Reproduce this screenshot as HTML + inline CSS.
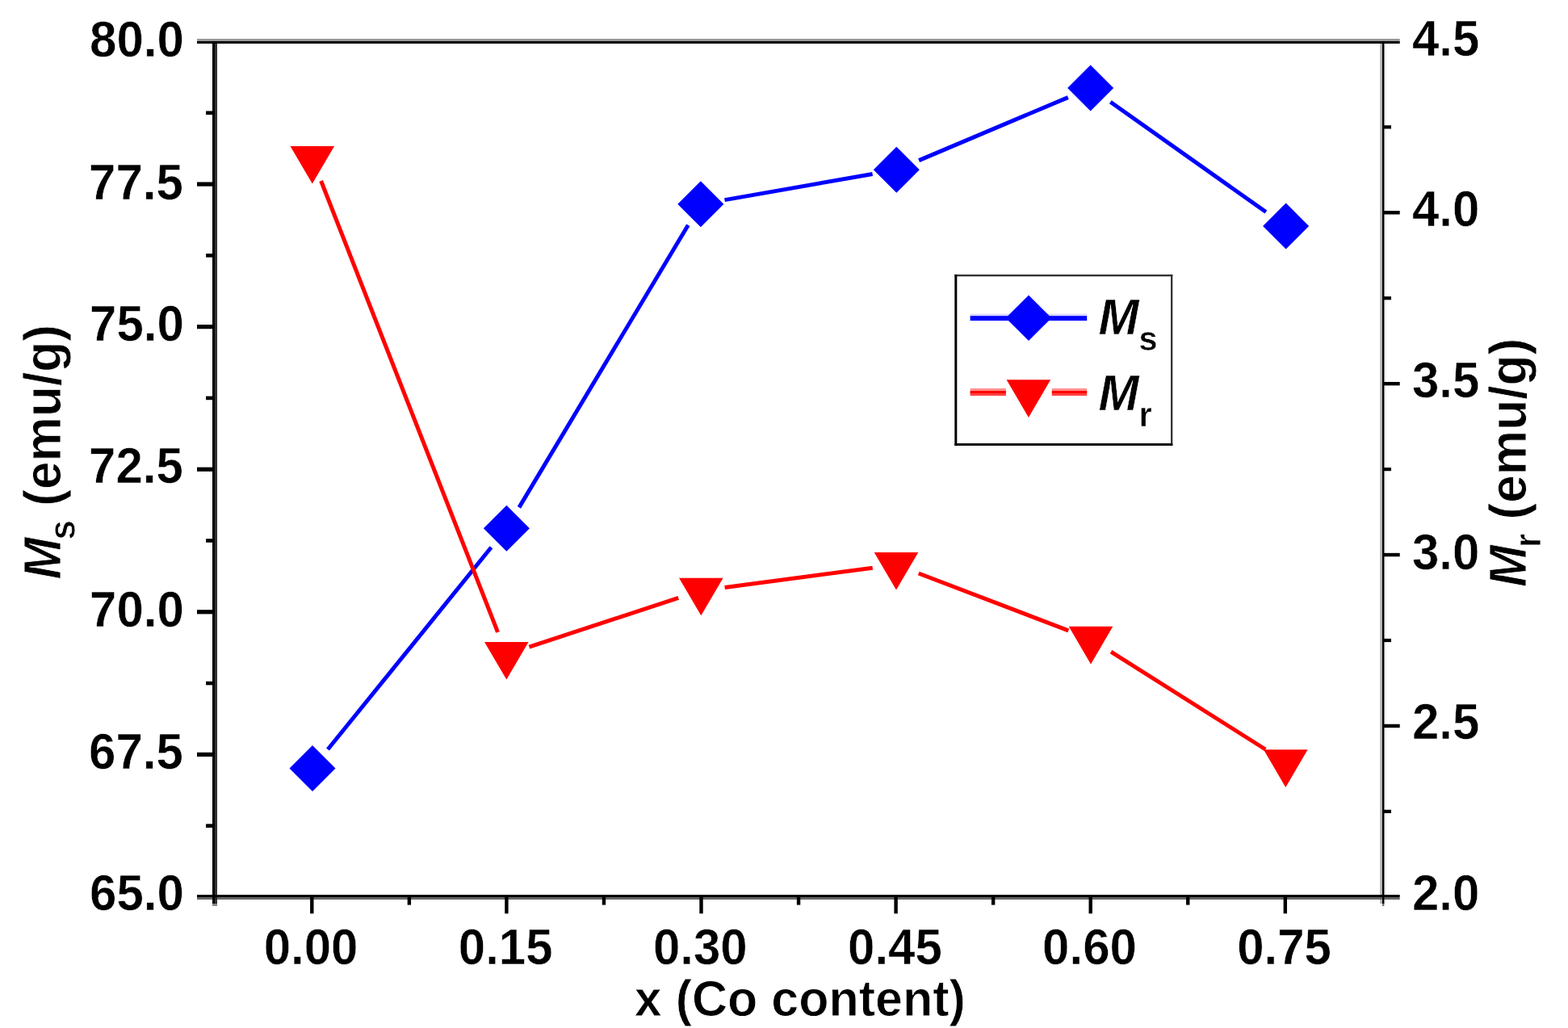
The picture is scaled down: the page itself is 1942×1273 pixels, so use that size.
<!DOCTYPE html>
<html lang="en"><head><meta charset="utf-8"><title>Ms and Mr vs Co content</title>
<style>html,body{margin:0;padding:0;background:#fff}body{width:1942px;height:1273px;overflow:hidden}svg{display:block}text{font-family:"Liberation Sans",Arial,Helvetica,sans-serif;font-weight:bold;fill:#000}.it{font-style:italic}.thin{stroke:#fff;stroke-width:0.8px;stroke-linejoin:round}.tl{stroke:#fff;stroke-width:0.5px;stroke-linejoin:round}</style></head><body>
<svg width="1942" height="1273" viewBox="0 0 1942 1273">
<rect width="1942" height="1273" fill="#fff"/>
<rect x="263.00" y="51.00" width="3.00" height="1068.00" fill="#000"/>
<rect x="266.00" y="51.00" width="3.00" height="1068.00" fill="#333"/>
<rect x="263.00" y="1119.00" width="6.00" height="3.00" fill="#888"/>
<rect x="1709.20" y="54.00" width="3.80" height="1065.00" fill="#b3b3b3"/>
<rect x="1713.00" y="54.00" width="3.70" height="1065.00" fill="#eee"/>
<rect x="1712.00" y="51.00" width="2.40" height="1068.00" fill="#000"/>
<rect x="1712.00" y="1119.00" width="2.40" height="3.00" fill="#777"/>
<rect x="244.00" y="48.00" width="1489.70" height="3.00" fill="#999"/>
<rect x="244.00" y="51.00" width="1489.70" height="3.00" fill="#000"/>
<rect x="244.00" y="1108.00" width="1489.70" height="3.00" fill="#000"/>
<rect x="244.00" y="1111.00" width="1489.70" height="3.00" fill="#666"/>
<rect x="263.00" y="1111.00" width="3.00" height="3.00" fill="#000"/>
<rect x="266.00" y="1111.00" width="3.00" height="3.00" fill="#222"/>
<rect x="1712.00" y="1111.00" width="2.40" height="3.00" fill="#000"/>
<rect x="255.10" y="137.48" width="10.90" height="4.60" fill="#000"/>
<rect x="244.00" y="225.47" width="22.00" height="5.20" fill="#000"/>
<rect x="255.10" y="314.05" width="10.90" height="4.60" fill="#000"/>
<rect x="244.00" y="402.03" width="22.00" height="5.20" fill="#000"/>
<rect x="255.10" y="490.62" width="10.90" height="4.60" fill="#000"/>
<rect x="244.00" y="578.60" width="22.00" height="5.20" fill="#000"/>
<rect x="255.10" y="667.18" width="10.90" height="4.60" fill="#000"/>
<rect x="244.00" y="755.17" width="22.00" height="5.20" fill="#000"/>
<rect x="255.10" y="843.75" width="10.90" height="4.60" fill="#000"/>
<rect x="244.00" y="931.73" width="22.00" height="5.20" fill="#000"/>
<rect x="255.10" y="1020.32" width="10.90" height="4.60" fill="#000"/>
<rect x="1713.00" y="155.24" width="10.00" height="4.20" fill="#000"/>
<rect x="1713.00" y="261.08" width="20.70" height="4.40" fill="#000"/>
<rect x="1713.00" y="367.12" width="10.00" height="4.20" fill="#000"/>
<rect x="1713.00" y="472.96" width="20.70" height="4.40" fill="#000"/>
<rect x="1713.00" y="579.00" width="10.00" height="4.20" fill="#000"/>
<rect x="1713.00" y="684.84" width="20.70" height="4.40" fill="#000"/>
<rect x="1713.00" y="790.88" width="10.00" height="4.20" fill="#000"/>
<rect x="1713.00" y="896.72" width="20.70" height="4.40" fill="#000"/>
<rect x="1713.00" y="1002.76" width="10.00" height="4.20" fill="#000"/>
<rect x="384.10" y="1108.00" width="4.40" height="23.30" fill="#000"/>
<rect x="625.20" y="1108.00" width="4.40" height="23.30" fill="#000"/>
<rect x="866.30" y="1108.00" width="4.40" height="23.30" fill="#000"/>
<rect x="1107.40" y="1108.00" width="4.40" height="23.30" fill="#000"/>
<rect x="1348.50" y="1108.00" width="4.40" height="23.30" fill="#000"/>
<rect x="1589.60" y="1108.00" width="4.40" height="23.30" fill="#000"/>
<rect x="504.65" y="1108.00" width="4.40" height="12.60" fill="#000"/>
<rect x="745.75" y="1108.00" width="4.40" height="12.60" fill="#000"/>
<rect x="986.85" y="1108.00" width="4.40" height="12.60" fill="#000"/>
<rect x="1227.95" y="1108.00" width="4.40" height="12.60" fill="#000"/>
<rect x="1469.05" y="1108.00" width="4.40" height="12.60" fill="#000"/>
<text class="tl" transform="translate(227.8,69.6) scale(1,1.045)" font-size="60" text-anchor="end">80.0</text>
<text class="tl" transform="translate(226.9,246.7) scale(1,1.045)" font-size="60" text-anchor="end">77.5</text>
<text class="tl" transform="translate(227.8,421.8) scale(1,1.045)" font-size="60" text-anchor="end">75.0</text>
<text class="tl" transform="translate(226.9,598.4) scale(1,1.045)" font-size="60" text-anchor="end">72.5</text>
<text class="tl" transform="translate(227.8,775.5) scale(1,1.045)" font-size="60" text-anchor="end">70.0</text>
<text class="tl" transform="translate(226.9,951.5) scale(1,1.045)" font-size="60" text-anchor="end">67.5</text>
<text class="tl" transform="translate(227.8,1127.3) scale(1,1.045)" font-size="60" text-anchor="end">65.0</text>
<text class="tl" transform="translate(1749.0,69.1) scale(1,1.045)" font-size="60" text-anchor="start">4.5</text>
<text class="tl" transform="translate(1749.0,280.2) scale(1,1.045)" font-size="60" text-anchor="start">4.0</text>
<text class="tl" transform="translate(1749.0,492.4) scale(1,1.045)" font-size="60" text-anchor="start">3.5</text>
<text class="tl" transform="translate(1749.0,704.5) scale(1,1.045)" font-size="60" text-anchor="start">3.0</text>
<text class="tl" transform="translate(1749.0,914.8) scale(1,1.045)" font-size="60" text-anchor="start">2.5</text>
<text class="tl" transform="translate(1749.0,1126.9) scale(1,1.045)" font-size="60" text-anchor="start">2.0</text>
<text class="tl" transform="translate(385.1,1194.4) scale(1,1.045)" font-size="60" text-anchor="middle">0.00</text>
<text class="tl" transform="translate(626.2,1194.4) scale(1,1.045)" font-size="60" text-anchor="middle">0.15</text>
<text class="tl" transform="translate(867.3,1194.4) scale(1,1.045)" font-size="60" text-anchor="middle">0.30</text>
<text class="tl" transform="translate(1108.4,1194.4) scale(1,1.045)" font-size="60" text-anchor="middle">0.45</text>
<text class="tl" transform="translate(1349.5,1194.4) scale(1,1.045)" font-size="60" text-anchor="middle">0.60</text>
<text class="tl" transform="translate(1590.6,1194.4) scale(1,1.045)" font-size="60" text-anchor="middle">0.75</text>
<text class="thin" transform="translate(990.8,1257.5) scale(1,1.045)" font-size="61.0" text-anchor="middle">x (Co content)</text>
<text class="thin" transform="translate(75.3,717.5) rotate(-90) scale(1,1.045)" font-size="62.3" text-anchor="start"><tspan class="it">M</tspan><tspan font-size="44" dx="-3" dy="17">s</tspan><tspan dx="0" dy="-17"> (emu/g)</tspan></text>
<text class="thin" transform="translate(1890.2,726.9) rotate(-90) scale(1,1.045)" font-size="62.3" text-anchor="start"><tspan class="it">M</tspan><tspan font-size="44" dx="-3" dy="17">r</tspan><tspan dx="0" dy="-17"> (emu/g)</tspan></text>
<g stroke="#0000ff" stroke-width="5.0" fill="none"><line x1="406.0" y1="928.0" x2="608.4" y2="677.8"/><line x1="642.9" y1="628.4" x2="852.3" y2="278.7"/><line x1="897.5" y1="247.6" x2="1080.6" y2="215.5"/><line x1="1138.1" y1="198.6" x2="1322.8" y2="120.6"/><line x1="1375.3" y1="126.3" x2="1567.9" y2="262.5"/></g>
<g stroke="#ff0000" stroke-width="5.0" fill="none"><line x1="397.6" y1="224.0" x2="616.5" y2="782.8"/><line x1="655.4" y1="801.2" x2="840.2" y2="740.4"/><line x1="897.6" y1="727.4" x2="1080.7" y2="703.3"/><line x1="1137.7" y1="710.0" x2="1323.3" y2="780.8"/><line x1="1376.0" y1="807.1" x2="1567.3" y2="928.0"/></g>
<g fill="#0000ff"><polygon points="358.5,951.5 387.0,923.0 415.5,951.5 387.0,980.0"/><polygon points="598.9,654.3 627.4,625.8 655.9,654.3 627.4,682.8"/><polygon points="839.3,252.8 867.8,224.3 896.3,252.8 867.8,281.3"/><polygon points="1081.8,210.3 1110.3,181.8 1138.8,210.3 1110.3,238.8"/><polygon points="1322.1,108.9 1350.6,80.4 1379.1,108.9 1350.6,137.4"/><polygon points="1564.1,279.9 1592.6,251.4 1621.1,279.9 1592.6,308.4"/></g>
<g fill="#ff0000"><polygon points="359.5,180.9 414.1,180.9 386.8,227.5"/><polygon points="600.0,794.9 654.6,794.9 627.3,841.5"/><polygon points="841.0,715.7 895.6,715.7 868.3,762.3"/><polygon points="1082.7,684.0 1137.3,684.0 1110.0,730.6"/><polygon points="1323.7,775.8 1378.3,775.8 1351.0,822.4"/><polygon points="1565.0,928.3 1619.6,928.3 1592.3,974.9"/></g>
<rect x="1182.30" y="339.90" width="270.00" height="2.40" fill="#333"/>
<rect x="1450.00" y="339.90" width="2.30" height="212.00" fill="#333"/>
<rect x="1182.30" y="339.90" width="3.00" height="212.00" fill="#000"/>
<rect x="1182.30" y="549.00" width="270.00" height="2.90" fill="#000"/>
<rect x="1201.60" y="388.60" width="144.60" height="3.40" fill="#d8d8ff"/>
<rect x="1201.60" y="391.20" width="144.60" height="5.90" fill="#0000ff"/>
<g fill="#0000ff"><polygon points="1245.7,393.8 1274.0,365.5 1302.3,393.8 1274.0,422.1"/></g>
<rect x="1201.60" y="480.90" width="44.30" height="4.10" fill="#ff9090"/>
<rect x="1201.60" y="486.00" width="44.30" height="4.10" fill="#ff4040"/>
<rect x="1201.60" y="484.00" width="44.30" height="3.00" fill="#ff0000"/>
<rect x="1302.80" y="480.90" width="43.40" height="4.10" fill="#ff9090"/>
<rect x="1302.80" y="486.00" width="43.40" height="4.10" fill="#ff4040"/>
<rect x="1302.80" y="484.00" width="43.40" height="3.00" fill="#ff0000"/>
<g fill="#ff0000"><polygon points="1246.6,470.3 1301.2,470.3 1273.9,516.9"/></g>
<text class="tl" transform="translate(1360.5,414) scale(1,1.045)" font-size="60"><tspan class="it">M</tspan><tspan font-size="41.5" dy="19">s</tspan></text>
<text class="tl" transform="translate(1360.5,508) scale(1,1.045)" font-size="60"><tspan class="it">M</tspan><tspan font-size="41.5" dy="19">r</tspan></text>
</svg></body></html>
